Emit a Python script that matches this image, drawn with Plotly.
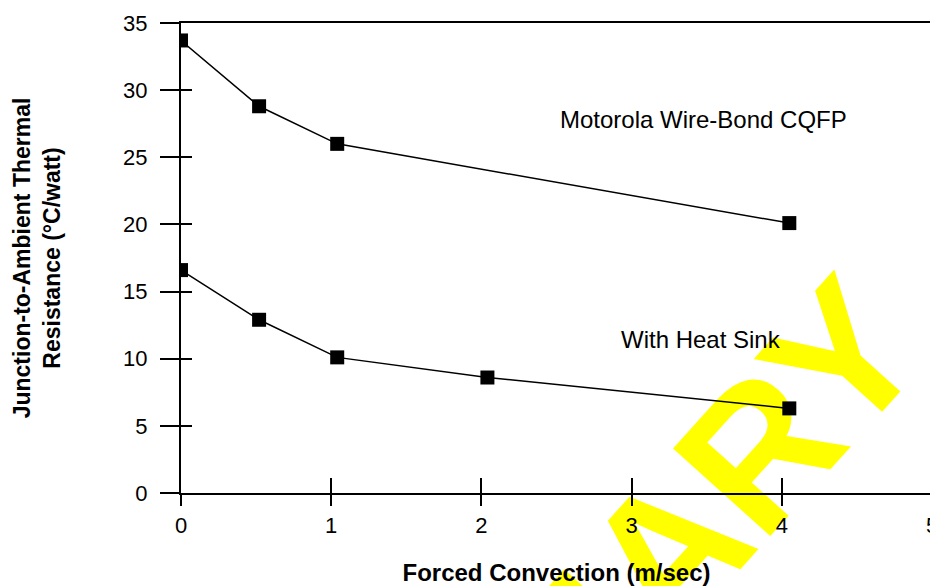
import plotly.graph_objects as go

# Data
x_cqfp = [0, 0.52, 1.04, 4.05]
y_cqfp = [33.7, 28.8, 26.0, 20.1]

x_sink = [0, 0.52, 1.04, 2.04, 4.05]
y_sink = [16.6, 12.9, 10.1, 8.6, 6.3]

x_ticks = [0, 1, 2, 3, 4, 5]
y_ticks = [0, 5, 10, 15, 20, 25, 30, 35]

label_cqfp = "Motorola Wire-Bond CQFP"
label_sink = "With Heat Sink"
x_title = "Forced Convection (m/sec)"
y_title = "Junction-to-Ambient Thermal<br>Resistance (°C/watt)"
watermark = "PRELIMINARY"

FONT = "Liberation Sans, Arial, sans-serif"

fig = go.Figure()
marker = dict(symbol="square", size=14, color="black")
line = dict(color="black", width=1.5)
fig.add_trace(go.Scatter(x=x_cqfp, y=y_cqfp, mode="lines+markers", marker=marker, line=line))
fig.add_trace(go.Scatter(x=x_sink, y=y_sink, mode="lines+markers", marker=marker, line=line))
# invisible trace to anchor the crossing-tick overlay axes
fig.add_trace(go.Scatter(x=x_sink, y=y_sink, mode="lines", opacity=0, xaxis="x2", yaxis="y2",
                         hoverinfo="skip"))

fig.add_annotation(x=4.45, y=27.8, xref="x", yref="y", text=label_cqfp, showarrow=False,
                   xanchor="right", font=dict(family=FONT, size=24, color="black"))
fig.add_annotation(x=4.01, y=11.4, xref="x", yref="y", text=label_sink, showarrow=False,
                   xanchor="right", font=dict(family=FONT, size=24, color="black"))

# watermark under everything
fig.add_shape(type="rect", xref="paper", yref="paper", x0=0.329, x1=0.349, y0=-0.625, y1=-0.605,
              line=dict(width=0), fillcolor="rgba(0,0,0,0)", layer="below",
              label=dict(text=watermark, textangle=-48, textposition="middle center",
                         font=dict(family=FONT, size=190, color="#FFFF00", weight="bold")))

axis_common = dict(showgrid=False, zeroline=False, automargin=False)
fig.update_layout(
    width=930, height=578,
    margin=dict(l=173, r=6, t=15, b=93),
    paper_bgcolor="white", plot_bgcolor="rgba(0,0,0,0)",
    showlegend=False,
    font=dict(family=FONT, color="black"),
    xaxis=dict(range=[0, 5], tickvals=x_ticks, ticks="outside", ticklen=11, tickwidth=1.5,
               tickcolor="black", showline=True, linecolor="black", linewidth=2, mirror=True,
               tickfont=dict(size=22), ticklabelstandoff=1, ticklabeloverflow="allow",
               title=dict(text="<b>" + x_title + "</b>", font=dict(size=24), standoff=29),
               **axis_common),
    yaxis=dict(range=[0, 35], tickvals=y_ticks, ticks="outside", ticklen=19, tickwidth=1.5,
               tickcolor="black", showline=True, linecolor="black", linewidth=2, mirror=True,
               tickfont=dict(size=22), ticklabelstandoff=8, ticklabeloverflow="allow",
               title=dict(text="<b>" + y_title + "</b>", font=dict(size=23), standoff=56),
               **axis_common),
    xaxis2=dict(range=[0, 5], tickvals=x_ticks, ticks="inside", ticklen=15, tickwidth=1.5,
                tickcolor="black", showticklabels=False, overlaying="x", anchor="y2",
                side="bottom", showline=False, **axis_common),
    yaxis2=dict(range=[0, 35], tickvals=y_ticks, ticks="inside", ticklen=11, tickwidth=1.5,
                tickcolor="black", showticklabels=False, overlaying="y", anchor="x2",
                side="left", showline=False, **axis_common),
)

fig.write_html("out.html")
